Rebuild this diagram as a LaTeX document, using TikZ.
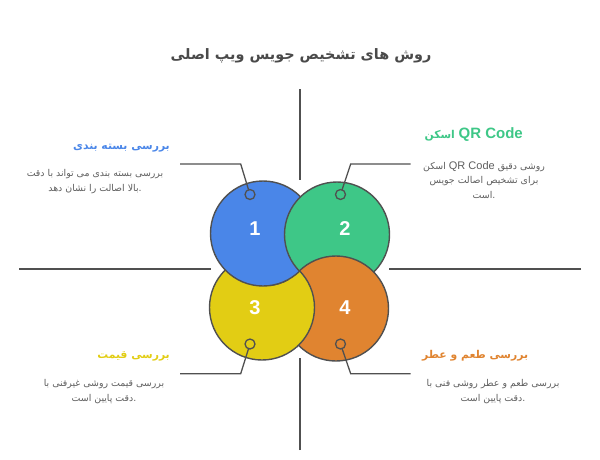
\documentclass[tikz,border=0pt]{standalone}
\usepackage{fontspec}
\TeXXeTstate=1
\newfontfamily\arabicfont[Script=Arabic]{DejaVu Sans}
\newfontfamily\latinfont{Liberation Sans}
\definecolor{ink}{HTML}{505050}
\definecolor{titleink}{HTML}{4A4A4A}
\definecolor{bodytext}{HTML}{5E5E5E}
\definecolor{cblue}{HTML}{4A86E8}
\definecolor{cgreen}{HTML}{3EC787}
\definecolor{cyellow}{HTML}{E2CD14}
\definecolor{corange}{HTML}{E08430}
\tikzset{
  disc/.style={circle,draw=ink,line width=1.4pt,minimum size=105pt,inner sep=0pt,outer sep=0pt},
  dotmark/.style={circle,draw=ink,line width=1.3pt,minimum size=10pt,inner sep=0pt,outer sep=0pt},
  link/.style={draw=ink,line width=1.3pt},
  axisline/.style={draw=ink,line width=1.3pt},
  num/.style={text=white,font=\latinfont\bfseries\fontsize{20}{24}\selectfont,inner sep=0pt},
  head/.style={font=\arabicfont\bfseries\fontsize{10.8}{14}\selectfont,inner sep=0pt},
  bodytxt/.style={font=\arabicfont\fontsize{9.4}{14.6}\selectfont,text=bodytext,align=center,inner sep=0pt},
}
\begin{document}
\begin{tikzpicture}[x=1pt,y=-1pt]
\useasboundingbox (0,0) rectangle (600,459);
% axes
\coordinate (at) at (300,89);  \coordinate (ati) at (300,180);
\coordinate (ab) at (300,450); \coordinate (abi) at (300,358);
\coordinate (al) at (19,269);  \coordinate (ali) at (211,269);
\coordinate (ar) at (581,269); \coordinate (ari) at (389,269);
\draw[axisline] (at) -- (ati);
\draw[axisline] (ab) -- (abi);
\draw[axisline] (al) -- (ali);
\draw[axisline] (ar) -- (ari);
% discs (pinwheel overlap)
\node[disc,fill=cyellow] (c3) at (262,307.5) {};
\node[disc,fill=cblue]   (c1) at (263,233.5) {};
\node[disc,fill=cgreen]  (c2) at (337,234.5) {};
\node[disc,fill=corange] (c4) at (336,308.5) {};
\begin{scope}
\clip (336,308.5) circle (55);
\clip (200,271.5) rectangle (330,370);
\node[disc,fill=cyellow] (c3top) at (262,307.5) {};
\end{scope}
\begin{scope}
\clip (270,271.5) rectangle (300,292);
\node[disc,fill=cblue] (c1top) at (263,233.5) {};
\end{scope}
% title
\node[font=\arabicfont\bfseries\fontsize{14.4}{18}\selectfont,text=titleink,inner sep=0pt] (title) at (301,55.5) {\beginR روش های تشخیص جویس ویپ اصلی\endR};
% numbers
\node[num] (n1) at (255,229) {1};
\node[num] (n2) at (345,229) {2};
\node[num] (n3) at (255,308) {3};
\node[num] (n4) at (345,308) {4};
% dots and leaders
\node[dotmark] (d1) at (250,194.5) {};
\node[dotmark] (d2) at (340.5,194.5) {};
\node[dotmark] (d3) at (250,344) {};
\node[dotmark] (d4) at (340.5,344) {};
\coordinate (s1) at (180,164);   \coordinate (k1) at (240.7,164);
\coordinate (s2) at (410.7,164); \coordinate (k2) at (350.7,164);
\coordinate (s3) at (180,373.7); \coordinate (k3) at (240.7,373.7);
\coordinate (s4) at (410.7,373.7); \coordinate (k4) at (350.7,373.7);
\draw[link] (s1) -- (k1) -- (d1);
\draw[link] (s2) -- (k2) -- (d2);
\draw[link] (s3) -- (k3) -- (d3);
\draw[link] (s4) -- (k4) -- (d4);
% headings
\node[head,text=cblue,anchor=east] (h1) at (170,148) {\beginR بررسی بسته بندی\endR};
\node[head,text=cgreen,anchor=east] (h2) at (523,135) {\beginR \beginL{\latinfont\bfseries\fontsize{15}{16}\selectfont QR Code}\endL{} اسکن\endR};
\node[head,text=cyellow,anchor=east] (h3) at (170,356) {\beginR بررسی قیمت\endR};
\node[head,text=corange,anchor=west] (h4) at (422,356) {\beginR بررسی طعم و عطر\endR};
% bodies
\node[bodytxt] (b1) at (95,181.5) {\beginR بررسی بسته بندی می تواند با دقت\endR\\\beginR .بالا اصالت را نشان دهد\endR};
\node[bodytxt] (b2) at (484,180) {\beginR روشی دقیق \beginL{\latinfont\fontsize{11}{14}\selectfont QR Code}\endL{} اسکن\endR\\\beginR برای تشخیص اصالت جویس\endR\\\beginR .است\endR};
\node[bodytxt] (b3) at (104,391.5) {\beginR بررسی قیمت روشی غیرفنی با\endR\\\beginR .دقت پایین است\endR};
\node[bodytxt] (b4) at (493,391.5) {\beginR بررسی طعم و عطر روشی فنی با\endR\\\beginR .دقت پایین است\endR};
\end{tikzpicture}
\end{document}
